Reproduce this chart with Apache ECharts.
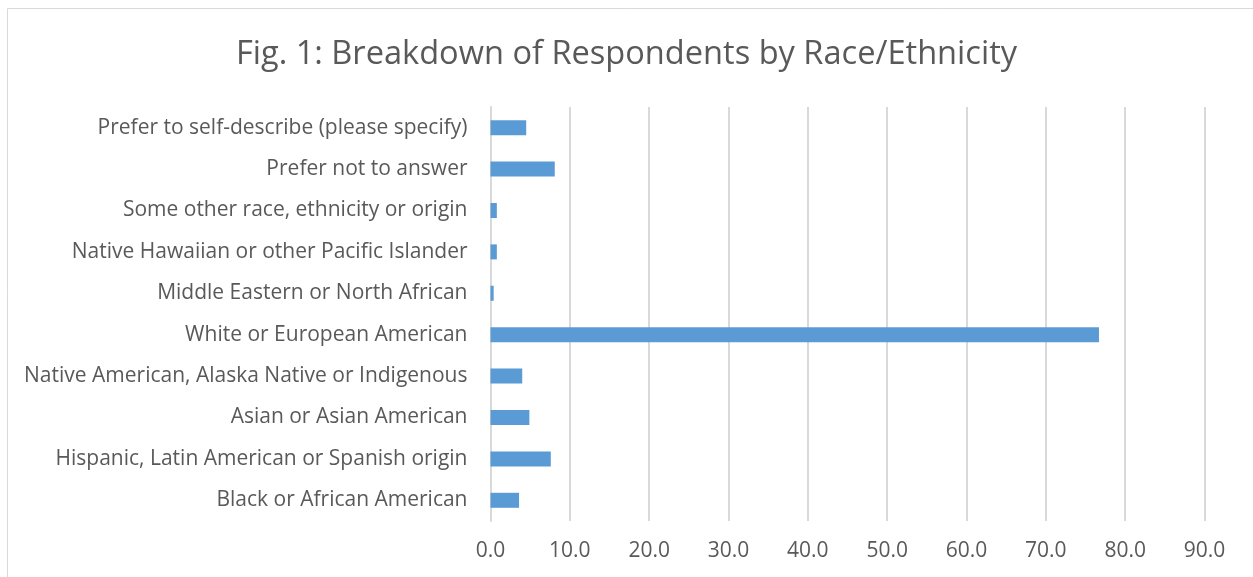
<!DOCTYPE html>
<html>
<head>
<meta charset="utf-8">
<script src="https://cdn.jsdelivr.net/npm/echarts@6/dist/echarts.min.js"></script>
<style>
html,body{margin:0;padding:0;background:#fff;}
#main{width:1253px;height:577px;}
</style>
</head>
<body>
<div id="main"></div>
<script>
var titleText = 'Fig. 1: Breakdown of Respondents by Race/Ethnicity';
var categories = [
  'Black or African American',
  'Hispanic, Latin American or Spanish origin',
  'Asian or Asian American',
  'Native American, Alaska Native or Indigenous',
  'White or European American',
  'Middle Eastern or North African',
  'Native Hawaiian or other Pacific Islander',
  'Some other race, ethnicity or origin',
  'Prefer not to answer',
  'Prefer to self-describe (please specify)'
];
var values = [3.6, 7.6, 4.9, 4.0, 76.7, 0.4, 0.8, 0.8, 8.1, 4.5];
var axisMin = 0, axisMax = 90, axisStep = 10;

var chart = echarts.init(document.getElementById('main'), null, {renderer: 'canvas'});
var font = 'Open Sans';
chart.setOption({
  animation: false,
  backgroundColor: '#ffffff',
  graphic: [{
    type: 'rect',
    shape: {x: 7.5, y: 8.5, width: 1300, height: 600},
    style: {fill: 'none', stroke: '#d9d9d9', lineWidth: 1},
    silent: true
  }],
  title: {
    text: titleText,
    left: 'center',
    top: 33,
    textStyle: {fontFamily: font, fontSize: 32.6, fontWeight: 'normal', color: '#595959'}
  },
  grid: {left: 490.5, right: 48.5, top: 107, bottom: 56, containLabel: false},
  xAxis: {
    type: 'value',
    min: axisMin, max: axisMax, interval: axisStep,
    axisLine: {show: false},
    axisTick: {show: false},
    splitLine: {show: true, lineStyle: {color: '#d9d9d9', width: 2}},
    axisLabel: {
      margin: 20,
      fontFamily: font, fontSize: 21, color: '#595959',
      formatter: function (v) { return v.toFixed(1); }
    }
  },
  yAxis: {
    type: 'category',
    data: categories,
    axisLine: {show: true, lineStyle: {color: '#d9d9d9', width: 2}},
    axisTick: {show: false},
    axisLabel: {margin: 23, fontFamily: font, fontSize: 21, color: '#595959', padding: [3, 0, 0, 0]}
  },
  series: [{
    type: 'bar',
    data: values,
    barWidth: 15,
    itemStyle: {color: '#5b9bd5'}
  }]
});
</script>
</body>
</html>
